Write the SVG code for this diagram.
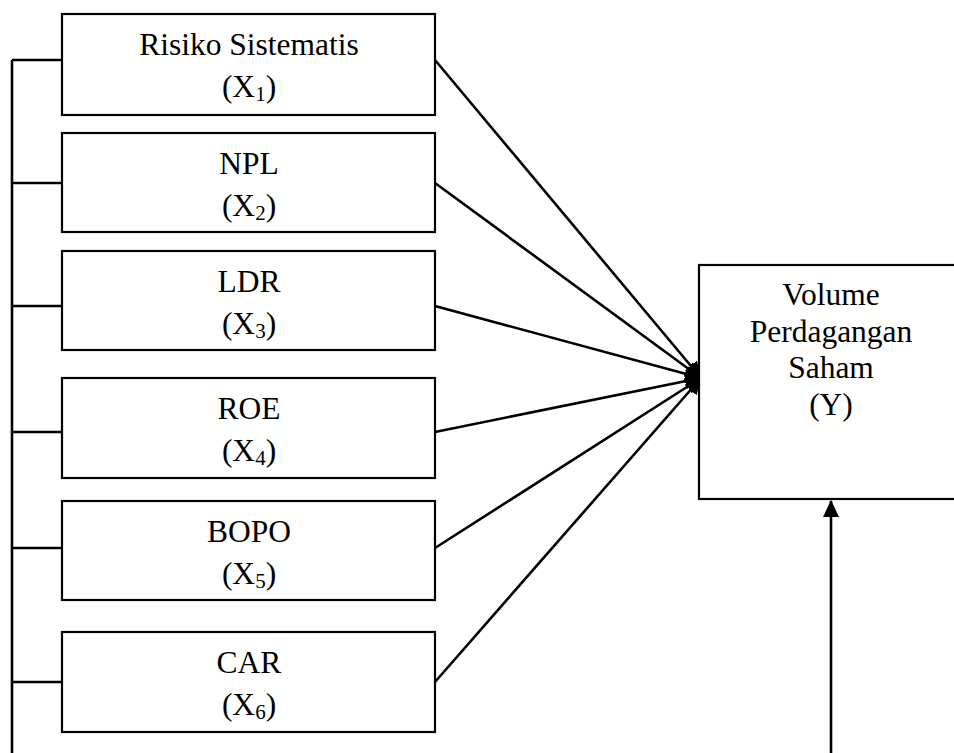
<svg xmlns="http://www.w3.org/2000/svg" width="954" height="753" viewBox="0 0 954 753">
<defs>
<style>
.box{fill:#fff;stroke:#000;stroke-width:2.2}
.ln{fill:none;stroke:#000;stroke-width:2.6}
.t{font-family:"Liberation Serif","Times New Roman",serif;font-size:31.5px;fill:#000;text-anchor:middle}
.sub{font-size:21px}
</style>
<marker id="ah" markerUnits="userSpaceOnUse" markerWidth="17" markerHeight="16" refX="16" refY="8" orient="auto">
<path d="M0,0 L17,8 L0,16 Z" fill="#000"/>
</marker>
</defs>
<g id="connectors">
<path class="ln" d="M12,60 V753 M12,60 H62 M12,183 H62 M12,306 H62 M12,432 H62 M12,548 H62 M12,682 H62"/>
<line class="ln" x1="435" y1="60" x2="701" y2="378" marker-end="url(#ah)"/>
<line class="ln" x1="435" y1="183" x2="701" y2="378" marker-end="url(#ah)"/>
<line class="ln" x1="435" y1="306" x2="701" y2="378" marker-end="url(#ah)"/>
<line class="ln" x1="435" y1="432" x2="701" y2="378" marker-end="url(#ah)"/>
<line class="ln" x1="435" y1="548" x2="701" y2="378" marker-end="url(#ah)"/>
<line class="ln" x1="435" y1="682" x2="701" y2="378" marker-end="url(#ah)"/>
<line class="ln" x1="831" y1="753" x2="831" y2="501" marker-end="url(#ah)"/>
</g>
<g id="x1">
<rect class="box" x="62" y="14" width="373" height="101"/>
<text class="t" x="249" y="55">Risiko Sistematis</text>
<text class="t" x="249" y="97">(X<tspan class="sub" dy="4">1</tspan><tspan dy="-4">)</tspan></text>
</g>
<g id="x2">
<rect class="box" x="62" y="133" width="373" height="99"/>
<text class="t" x="249" y="174">NPL</text>
<text class="t" x="249" y="216">(X<tspan class="sub" dy="4">2</tspan><tspan dy="-4">)</tspan></text>
</g>
<g id="x3">
<rect class="box" x="62" y="251" width="373" height="99"/>
<text class="t" x="249" y="292">LDR</text>
<text class="t" x="249" y="334">(X<tspan class="sub" dy="4">3</tspan><tspan dy="-4">)</tspan></text>
</g>
<g id="x4">
<rect class="box" x="62" y="378" width="373" height="100"/>
<text class="t" x="249" y="419">ROE</text>
<text class="t" x="249" y="461">(X<tspan class="sub" dy="4">4</tspan><tspan dy="-4">)</tspan></text>
</g>
<g id="x5">
<rect class="box" x="62" y="501" width="373" height="99"/>
<text class="t" x="249" y="542">BOPO</text>
<text class="t" x="249" y="584">(X<tspan class="sub" dy="4">5</tspan><tspan dy="-4">)</tspan></text>
</g>
<g id="x6">
<rect class="box" x="62" y="632" width="373" height="100"/>
<text class="t" x="249" y="673">CAR</text>
<text class="t" x="249" y="715">(X<tspan class="sub" dy="4">6</tspan><tspan dy="-4">)</tspan></text>
</g>
<g id="y">
<rect class="box" x="699" y="265" width="264" height="234"/>
<text class="t" x="831" y="305">Volume</text>
<text class="t" x="831" y="342">Perdagangan</text>
<text class="t" x="831" y="378">Saham</text>
<text class="t" x="831" y="415">(Y)</text>
</g>
</svg>
